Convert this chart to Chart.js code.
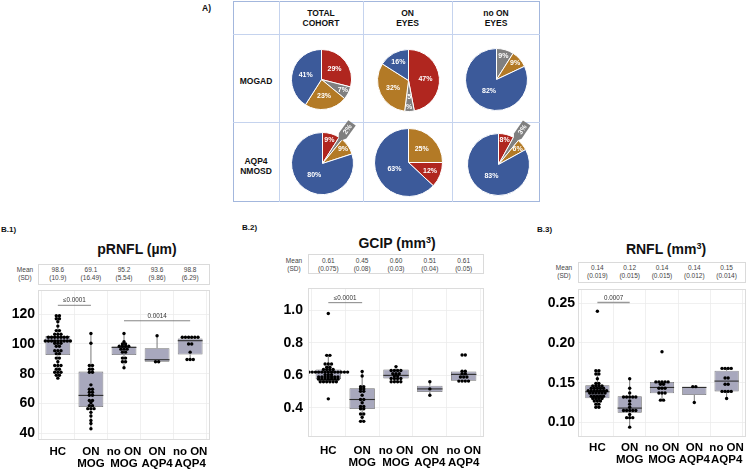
<!DOCTYPE html>
<html><head><meta charset="utf-8">
<script src="https://cdn.jsdelivr.net/npm/chart.js@4.4.1/dist/chart.umd.min.js"></script>
<style>
body{margin:0;width:752px;height:471px;background:#fff;position:relative;overflow:hidden;font-family:"Liberation Sans",Arial,sans-serif;}
canvas{position:absolute;}
.ab{position:absolute;}
.vl{position:absolute;width:1px;background:#c5d3ee;}
.hl{position:absolute;height:1px;background:#c5d3ee;}
.hdr{position:absolute;font-weight:bold;font-size:8.5px;line-height:10px;text-align:center;color:#111;}
.ttl{position:absolute;font-weight:bold;font-size:14px;line-height:16px;text-align:center;color:#111;white-space:nowrap;}
.ttl sup{font-size:9px;line-height:0;vertical-align:5px;}
.blab{position:absolute;font-weight:bold;font-size:8px;line-height:10px;color:#111;}
.mbox{position:absolute;border:1px solid #dadada;box-sizing:border-box;}
.mt{position:absolute;font-size:6.5px;line-height:8px;color:#444;text-align:center;width:40px;white-space:nowrap;}
</style></head><body>

<div class="blab" style="left:202px;top:3px;font-size:8.5px">A)</div>
<div class="ab" style="left:233px;top:1px;width:307px;height:201px;border:1.5px solid #a3b7dd;box-sizing:border-box"></div>
<div class="vl" style="left:279px;top:1px;height:201px"></div>
<div class="vl" style="left:363px;top:1px;height:201px"></div>
<div class="vl" style="left:452px;top:1px;height:201px"></div>
<div class="hl" style="left:233px;top:34px;width:307px"></div>
<div class="hl" style="left:233px;top:122px;width:307px"></div>
<div class="hdr" style="left:279px;width:84px;top:7.5px">TOTAL<br>COHORT</div>
<div class="hdr" style="left:363px;width:89px;top:7.5px">ON<br>EYES</div>
<div class="hdr" style="left:452px;width:88px;top:7.5px">no ON<br>EYES</div>
<div class="hdr" style="left:233px;width:46px;top:76px">MOGAD</div>
<div class="hdr" style="left:233px;width:46px;top:155.5px">AQP4<br>NMOSD</div>

<div class="blab" style="left:1px;top:225px">B.1)</div>
<div class="blab" style="left:242px;top:223px">B.2)</div>
<div class="blab" style="left:537px;top:225px">B.3)</div>
<div class="ttl" style="left:77px;width:120px;top:241px">pRNFL (µm)</div>
<div class="ttl" style="left:337px;width:120px;top:235px">GCIP (mm<sup>3</sup>)</div>
<div class="ttl" style="left:606px;width:120px;top:241px">RNFL (mm<sup>3</sup>)</div>

<script>
// ---------- DATA ----------
const categories = [['HC'], ['ON', 'MOG'], ['no ON', 'MOG'], ['ON', 'AQP4'], ['no ON', 'AQP4']];

// Pie charts (percent, clockwise from top)
const pieMogadTotal = [29, 7, 23, 41];
const pieMogadOn = [47, 5, 32, 16];
const pieMogadNoOn = [9, 9, 82];
const pieAqp4Total = [9, 2, 9, 80];
const pieAqp4On = [25, 12, 63];
const pieAqp4NoOn = [8, 3, 6, 83];

// pRNFL (µm)
const prnflPoints = [
  [119,119,117,117,115,112,109,109,106.5,106.5,106.5,104.5,104.5,104.5,104.5,104.5,104.5,104.5,102,102,102,102,102,102,102,102,102,100.5,100.5,100.5,98.5,98.5,95.5,95.5,95.5,93.5,93.5,90.5,90.5,88,85.5,85.5,85.5,83,83,81,81,81,79,79,77],
  [107,100.5,85.5,85.5,83,83,81,81,72.5,69.5,69.5,67.5,67.5,65.5,65.5,62,62,60.5,58.5,58.5,56.5,56.5,56.5,54,51.5,48.5,46.5,43],
  [107,101.5,100,100,98.5,98.5,98.5,98.5,96.5,96.5,96.5,94.5,94.5,90.5,90.5,88,88,84],
  [105.5,88,88],
  [104.5,104.5,104.5,104.5,104.5,104.5,100,100,94.5,89.5,89.5,89.5]
];
const prnflLow  = [77, 43, 84, 88, 89.5];
const prnflQ1   = [92.5, 57.6, 92.5, 88.1, 92.9];
const prnflMed  = [102.2, 65.4, 97.7, 89.4, 102.2];
const prnflQ3   = [105.3, 81.4, 98.3, 97.2, 103.7];
const prnflHigh = [119, 107, 107, 105.5, 104.5];
const prnflTicks = [40, 60, 80, 100, 120];
const prnflTickLabels = ['40', '60', '80', '100', '120'];
const prnflMean = ['98.6', '69.1', '95.2', '93.6', '98.8'];
const prnflSD = ['(10.9)', '(16.49)', '(5.54)', '(9.86)', '(6.29)'];
const prnflSigText = ['≤0.0001', '0.0014'];
const prnflSigFrom = [0, 2];
const prnflSigTo = [1, 4];
const prnflSigY = [126, 115.6];

// GCIP (mm3)
const gcipPoints = [
  [0.98,0.723,0.723,0.67,0.67,0.67,0.65,0.65,0.636,0.636,0.636,0.636,0.62,0.62,0.62,0.62,0.62,0.62,0.62,0.62,0.62,0.62,0.62,0.62,0.62,0.604,0.604,0.604,0.59,0.59,0.59,0.59,0.59,0.59,0.59,0.577,0.577,0.577,0.577,0.577,0.577,0.577,0.561,0.561,0.561,0.561,0.561,0.561,0.456],
  [0.624,0.596,0.531,0.531,0.517,0.517,0.502,0.502,0.478,0.452,0.452,0.432,0.409,0.409,0.395,0.395,0.363,0.363,0.343,0.318,0.318],
  [0.654,0.63,0.63,0.63,0.63,0.61,0.61,0.61,0.596,0.596,0.581,0.581,0.581,0.581,0.561,0.561,0.561,0.561],
  [0.561,0.517,0.478],
  [0.725,0.725,0.626,0.626,0.61,0.61,0.59,0.59,0.59,0.565,0.565,0.565,0.565]
];
const gcipLow  = [0.561, 0.318, 0.561, 0.478, 0.565];
const gcipQ1   = [0.577, 0.393, 0.581, 0.498, 0.567];
const gcipMed  = [0.620, 0.452, 0.600, 0.517, 0.606];
const gcipQ3   = [0.636, 0.521, 0.636, 0.537, 0.624];
const gcipHigh = [0.723, 0.624, 0.654, 0.561, 0.626];
const gcipTicks = [0.4, 0.6, 0.8, 1.0];
const gcipTickLabels = ['0.4', '0.6', '0.8', '1.0'];
const gcipMean = ['0.61', '0.45', '0.60', '0.51', '0.61'];
const gcipSD = ['(0.075)', '(0.08)', '(0.03)', '(0.04)', '(0.05)'];
const gcipSigText = ['≤0.0001'];
const gcipSigFrom = [0];
const gcipSigTo = [1];
const gcipSigY = [1.046];

// RNFL (mm3)
const rnflPoints = [
  [0.240,0.165,0.165,0.161,0.161,0.155,0.149,0.149,0.146,0.146,0.146,0.146,0.143,0.143,0.143,0.143,0.143,0.140,0.140,0.140,0.140,0.140,0.140,0.140,0.137,0.137,0.137,0.137,0.137,0.137,0.133,0.133,0.133,0.133,0.133,0.130,0.130,0.130,0.130,0.127,0.127,0.127,0.123,0.123,0.119,0.119],
  [0.155,0.143,0.137,0.132,0.132,0.132,0.132,0.132,0.127,0.123,0.119,0.115,0.115,0.115,0.115,0.115,0.110,0.106,0.106,0.106,0.094],
  [0.189,0.151,0.151,0.151,0.151,0.151,0.148,0.148,0.143,0.143,0.143,0.137,0.137,0.137,0.128,0.128],
  [0.145,0.145,0.125],
  [0.168,0.168,0.168,0.168,0.156,0.156,0.148,0.148,0.139,0.139,0.139,0.139,0.130]
];
const rnflLow  = [0.119, 0.094, 0.128, 0.125, 0.130];
const rnflQ1   = [0.1304, 0.112, 0.1366, 0.1345, 0.139];
const rnflMed  = [0.1386, 0.118, 0.144, 0.144, 0.152];
const rnflQ3   = [0.1468, 0.133, 0.151, 0.145, 0.165];
const rnflHigh = [0.165, 0.155, 0.151, 0.145, 0.168];
const rnflTicks = [0.10, 0.15, 0.20, 0.25];
const rnflTickLabels = ['0.10', '0.15', '0.20', '0.25'];
const rnflMean = ['0.14', '0.12', '0.14', '0.14', '0.15'];
const rnflSD = ['(0.019)', '(0.015)', '(0.015)', '(0.012)', '(0.014)'];
const rnflSigText = ['0.0007'];
const rnflSigFrom = [0];
const rnflSigTo = [1];
const rnflSigY = [0.251];

// ---------- STYLE ----------
const FONT = '"Liberation Sans", Arial, sans-serif';
const RED = '#b0261f', GRAY = '#808080', BROWN = '#b37a26', BLUE = '#3c5a9a';
const DOT_DX = 0.095;

// ---------- PIES ----------
const pieLabelPlugin = {
  id: 'pieLabels',
  afterDatasetsDraw(chart, args, opts) {
    const ctx = chart.ctx;
    const meta = chart.getDatasetMeta(0);
    const vals = chart.data.datasets[0].data;
    const modes = opts.modes || [];
    meta.data.forEach((arc, i) => {
      const v = vals[i];
      if (!v) return;
      const p = arc.getProps(['startAngle', 'endAngle', 'outerRadius', 'x', 'y'], true);
      const mid = (p.startAngle + p.endAngle) / 2;
      const R = p.outerRadius;
      const mode = modes[i] || 'in';
      ctx.save();
      ctx.font = 'bold 7px ' + FONT;
      ctx.textAlign = 'center';
      ctx.textBaseline = 'middle';
      if (mode === 'callout') {
        ctx.translate(p.x, p.y);
        ctx.rotate(mid);
        const r0 = R * 0.88, r1 = R * 1.62, hw = 4.6;
        ctx.fillStyle = '#7f7f7f';
        ctx.beginPath();
        ctx.moveTo(r0, 0);
        ctx.lineTo(r0 + 7, -hw);
        ctx.lineTo(r1, -hw);
        ctx.lineTo(r1, hw);
        ctx.lineTo(r0 + 7, hw);
        ctx.closePath();
        ctx.fill();
        ctx.fillStyle = '#fff';
        ctx.fillText(v + '%', (r0 + 7 + r1) / 2, 0.3);
      } else {
        const f = mode === 'split' ? 0.7 : (v < 10 ? 0.8 : (v < 20 ? 0.68 : (v > 60 ? 0.45 : 0.55)));
        const px = p.x + Math.cos(mid) * f * R, py = p.y + Math.sin(mid) * f * R;
        ctx.fillStyle = '#fff';
        if (mode === 'split') {
          ctx.fillText(String(v), px, py - 5);
          ctx.fillText('%', px, py + 5);
        } else {
          ctx.fillText(v + '%', px, py);
        }
      }
      ctx.restore();
    });
  }
};

function makePie(cx, cy, r, values, colors, modes) {
  const pad = 22;
  const S = 2 * r + 1 + 2 * pad;
  const c = document.createElement('canvas');
  c.width = S; c.height = S;
  c.style.left = (cx - S / 2) + 'px'; c.style.top = (cy - S / 2) + 'px';
  c.style.width = S + 'px'; c.style.height = S + 'px';
  document.body.appendChild(c);
  new Chart(c, {
    type: 'pie',
    data: { labels: values.map(v => v + '%'), datasets: [{ data: values, backgroundColor: colors, borderColor: '#ffffff', borderWidth: 1 }] },
    options: {
      responsive: false, animation: false, layout: { padding: pad },
      plugins: { legend: { display: false }, tooltip: { enabled: false }, pieLabels: { modes: modes } }
    },
    plugins: [pieLabelPlugin]
  });
}

makePie(321.5, 79, 30, pieMogadTotal, [RED, GRAY, BROWN, BLUE], ['in', 'in', 'in', 'in']);
makePie(408.5, 80.5, 31, pieMogadOn, [RED, GRAY, BROWN, BLUE], ['in', 'split', 'in', 'in']);
makePie(496, 79, 31, pieMogadNoOn, [GRAY, BROWN, BLUE], ['in', 'in', 'in']);
makePie(322, 163.5, 31, pieAqp4Total, [RED, GRAY, BROWN, BLUE], ['in', 'callout', 'in', 'in']);
makePie(408, 162, 34, pieAqp4On, [BROWN, RED, BLUE], ['in', 'in', 'in']);
makePie(498.5, 164, 31, pieAqp4NoOn, [RED, GRAY, BROWN, BLUE], ['in', 'callout', 'in', 'in']);

// ---------- BOX PLOTS ----------
const boxPlugin = {
  id: 'boxExtras',
  beforeDatasetsDraw(chart, args, o) {
    const ctx = chart.ctx, x = chart.scales.x, y = chart.scales.y;
    ctx.save();
    ctx.strokeStyle = '#555';
    ctx.lineWidth = 0.8;
    for (let i = 0; i < o.low.length; i++) {
      const px = x.getPixelForValue(i);
      ctx.beginPath();
      ctx.moveTo(px, y.getPixelForValue(o.q3[i]));
      ctx.lineTo(px, y.getPixelForValue(o.high[i]));
      ctx.moveTo(px, y.getPixelForValue(o.q1[i]));
      ctx.lineTo(px, y.getPixelForValue(o.low[i]));
      ctx.stroke();
    }
    ctx.restore();
  },
  afterDatasetDraw(chart, args, o) {
    if (args.meta.type !== 'bar') return;
    const ctx = chart.ctx, y = chart.scales.y;
    ctx.save();
    ctx.strokeStyle = '#2e2e2e';
    ctx.lineWidth = 1.1;
    args.meta.data.forEach((bar, i) => {
      const p = bar.getProps(['x', 'width'], true);
      const py = y.getPixelForValue(o.med[i]);
      ctx.beginPath();
      ctx.moveTo(p.x - p.width / 2, py);
      ctx.lineTo(p.x + p.width / 2, py);
      ctx.stroke();
    });
    ctx.restore();
  },
  afterDraw(chart, args, o) {
    const ctx = chart.ctx, a = chart.chartArea, x = chart.scales.x, y = chart.scales.y;
    ctx.save();
    ctx.strokeStyle = '#dcdcdc';
    ctx.lineWidth = 1;
    ctx.strokeRect(a.left + 0.5, a.top + 0.5, a.right - a.left - 1, a.bottom - a.top - 1);
    for (let k = 0; k < o.sigText.length; k++) {
      const x1 = x.getPixelForValue(o.sigFrom[k]), x2 = x.getPixelForValue(o.sigTo[k]);
      const py = y.getPixelForValue(o.sigY[k]);
      ctx.strokeStyle = o.sigColor;
      ctx.lineWidth = o.sigWidth;
      ctx.beginPath(); ctx.moveTo(x1, py); ctx.lineTo(x2, py); ctx.stroke();
      ctx.fillStyle = '#333';
      ctx.font = '6.3px ' + FONT;
      ctx.textAlign = 'center';
      ctx.textBaseline = 'bottom';
      ctx.fillText(o.sigText[k], (x1 + x2) / 2, py - 1.5);
    }
    ctx.restore();
  }
};

function makeBox(cfg) {
  const c = document.createElement('canvas');
  c.width = cfg.w; c.height = cfg.h;
  c.style.left = cfg.left + 'px'; c.style.top = cfg.top + 'px';
  c.style.width = cfg.w + 'px'; c.style.height = cfg.h + 'px';
  document.body.appendChild(c);
  const pts = [];
  cfg.points.forEach((arr, ci) => {
    const groups = new Map();
    arr.forEach(v => { if (!groups.has(v)) groups.set(v, []); groups.get(v).push(v); });
    groups.forEach(g => {
      const n = g.length;
      g.forEach((v, j) => pts.push({ x: ci + (j - (n - 1) / 2) * DOT_DX, y: v }));
    });
  });
  const chart = new Chart(c, {
    type: 'scatter',
    data: {
      datasets: [
        { type: 'bar', data: cfg.q1.map((q, i) => ({ x: i, y: [q, cfg.q3[i]] })),
          backgroundColor: '#a8a8bd', borderColor: '#6d6d6d', borderWidth: 0.8, borderSkipped: false,
          barPercentage: 0.75, categoryPercentage: 1, order: 2 },
        { type: 'scatter', data: pts, pointRadius: 1.7, pointBackgroundColor: '#000', pointBorderWidth: 0, order: 1 }
      ]
    },
    options: {
      responsive: false, animation: false, layout: { padding: 0 },
      plugins: {
        legend: { display: false }, tooltip: { enabled: false },
        boxExtras: { low: cfg.low, q1: cfg.q1, med: cfg.med, q3: cfg.q3, high: cfg.high,
          sigText: cfg.sigText, sigFrom: cfg.sigFrom, sigTo: cfg.sigTo, sigY: cfg.sigY,
          sigColor: cfg.sigColor, sigWidth: cfg.sigWidth }
      },
      scales: {
        x: {
          type: 'linear', min: -0.6, max: 4.6, offset: false,
          afterBuildTicks: s => { s.ticks = categories.map((_, i) => ({ value: i })); },
          afterFit: s => { s.height = cfg.xAxisH; s.paddingLeft = 0; s.paddingRight = 0; },
          ticks: { autoSkip: false, maxRotation: 0, minRotation: 0, padding: cfg.xPad, color: '#000',
            font: { family: FONT, size: 11.5, weight: 'bold', lineHeight: 1.12 },
            callback: v => categories[Math.round(v)] },
          grid: { color: '#ececec', drawTicks: false, lineWidth: 0.8 },
          border: { display: false }
        },
        y: {
          type: 'linear', min: cfg.yMin, max: cfg.yMax,
          afterBuildTicks: s => { s.ticks = cfg.yTicks.map(v => ({ value: v })); },
          afterFit: s => { s.width = cfg.yAxisW; s.paddingTop = 0; s.paddingBottom = 0; },
          ticks: { padding: cfg.yPad, color: '#000', font: { family: FONT, size: 14, weight: 'bold' },
            callback: (v, i) => cfg.yTickLabels[i] },
          grid: { color: '#ececec', drawTicks: false, lineWidth: 0.8 },
          border: { display: false }
        }
      }
    },
    plugins: [boxPlugin]
  });
  // Mean (SD) table
  const a = chart.chartArea;
  const box = document.createElement('div');
  box.className = 'mbox';
  box.style.left = (cfg.left + a.left) + 'px';
  box.style.top = cfg.mTop + 'px';
  box.style.width = (a.right - a.left) + 'px';
  box.style.height = cfg.mH + 'px';
  document.body.appendChild(box);
  const lab = document.createElement('div');
  lab.className = 'mt';
  lab.style.left = (cfg.mLabX - 20) + 'px';
  lab.style.top = cfg.mTextTop + 'px';
  lab.innerHTML = 'Mean<br>(SD)';
  document.body.appendChild(lab);
  cfg.mean.forEach((m, i) => {
    const d = document.createElement('div');
    d.className = 'mt';
    d.style.left = (cfg.left + chart.scales.x.getPixelForValue(i) - 20) + 'px';
    d.style.top = cfg.mTextTop + 'px';
    d.innerHTML = m + '<br>' + cfg.sd[i];
    document.body.appendChild(d);
  });
  return chart;
}

makeBox({ left: 0, top: 286, w: 214, h: 185, yAxisW: 38, xAxisH: 31, xPad: 5, yPad: 3,
  points: prnflPoints, low: prnflLow, q1: prnflQ1, med: prnflMed, q3: prnflQ3, high: prnflHigh,
  yMin: 35.4, yMax: 136.3, yTicks: prnflTicks, yTickLabels: prnflTickLabels,
  sigText: prnflSigText, sigFrom: prnflSigFrom, sigTo: prnflSigTo, sigY: prnflSigY, sigColor: '#666', sigWidth: 0.8,
  mean: prnflMean, sd: prnflSD, mTop: 264, mH: 21, mTextTop: 265.5, mLabX: 25 });

makeBox({ left: 262, top: 284, w: 226, h: 187, yAxisW: 46, xAxisH: 34, xPad: 7, yPad: 5,
  points: gcipPoints, low: gcipLow, q1: gcipQ1, med: gcipMed, q3: gcipQ3, high: gcipHigh,
  yMin: 0.222, yMax: 1.136, yTicks: gcipTicks, yTickLabels: gcipTickLabels,
  sigText: gcipSigText, sigFrom: gcipSigFrom, sigTo: gcipSigTo, sigY: gcipSigY, sigColor: '#666', sigWidth: 0.8,
  mean: gcipMean, sd: gcipSD, mTop: 254, mH: 20, mTextTop: 256.5, mLabX: 294 });

makeBox({ left: 535, top: 285, w: 215, h: 186, yAxisW: 43, xAxisH: 34, xPad: 4, yPad: 3,
  points: rnflPoints, low: rnflLow, q1: rnflQ1, med: rnflMed, q3: rnflQ3, high: rnflHigh,
  yMin: 0.0816, yMax: 0.268, yTicks: rnflTicks, yTickLabels: rnflTickLabels,
  sigText: rnflSigText, sigFrom: rnflSigFrom, sigTo: rnflSigTo, sigY: rnflSigY, sigColor: '#999', sigWidth: 1.5,
  mean: rnflMean, sd: rnflSD, mTop: 262, mH: 21, mTextTop: 264, mLabX: 564 });
</script>
</body></html>
